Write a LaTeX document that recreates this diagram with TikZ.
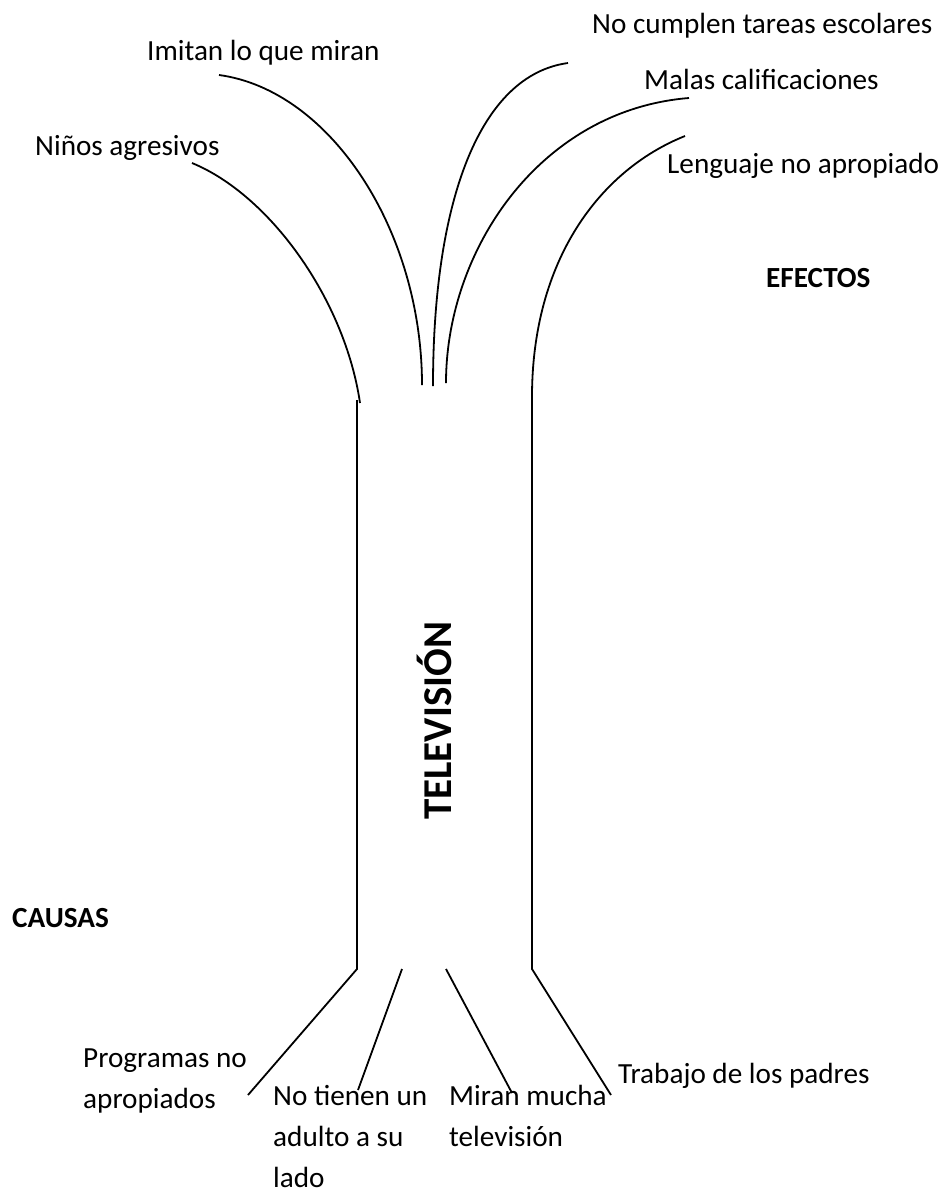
\documentclass[tikz,border=0pt]{standalone}
\usepackage{fontspec}
\setmainfont{Carlito}
\begin{document}
\begin{tikzpicture}[x=1pt,y=-1pt,
  lbl/.style={anchor=base west,inner sep=0pt,font=\fontsize{29.2}{41}\selectfont,align=left},
  hdr/.style={anchor=base west,inner sep=0pt,font=\fontsize{29.2}{35}\selectfont\bfseries},
  br/.style={line width=1.8pt}]
\useasboundingbox (0,0) rectangle (945,1195);
% effects
\node[lbl] (imitan) at (147,60) {Imitan lo que miran};
\node[lbl] (ninos) at (35,155) {Niños agresivos};
\node[lbl] (nocump) at (592,33) {No cumplen tareas escolares};
\node[lbl] (malas) at (644,89) {Malas calificaciones};
\node[lbl] (leng) at (667,173) {Lenguaje no apropiado};
\node[hdr] (efectos) at (766,287) {EFECTOS};
% causes (base anchor = baseline of last line)
\node[hdr] (causas) at (12,927) {CAUSAS};
\node[lbl] (prog) at (83,1108) {Programas no\\apropiados};
\node[lbl] (adulto) at (273,1187) {No tienen un\\adulto a su\\lado};
\node[lbl] (mucha) at (449,1146) {Miran mucha\\televisión};
\node[lbl] (padres) at (618,1083) {Trabajo de los padres};
% trunk label
\node[anchor=base west,rotate=90,inner sep=0pt,font=\fontsize{41}{45}\selectfont\bfseries] (tv) at (451,820) {TELEVISIÓN};
% coordinates
\coordinate (e1a) at (219,75);  \coordinate (e1b) at (422,385);
\coordinate (e2a) at (192,163); \coordinate (e2b) at (360,403);
\coordinate (e3a) at (568,63);  \coordinate (e3b) at (433,386);
\coordinate (e4a) at (689,98);  \coordinate (e4b) at (446,383);
\coordinate (e5a) at (685,136); \coordinate (e5b) at (532,397);
\coordinate (rb) at (532,969);
\coordinate (lt) at (357,400);  \coordinate (lb) at (357,969);
\coordinate (c1) at (248,1095);
\coordinate (c2t) at (402,969); \coordinate (c2) at (358,1090);
\coordinate (c3t) at (446,969); \coordinate (c3) at (512,1093);
\coordinate (c4) at (611,1095);
% branches
\draw[br] (e1a) .. controls (330,90) and (422,230) .. (e1b);
\draw[br] (e2a) .. controls (270,195) and (345,300) .. (e2b);
\draw[br] (e3b) .. controls (433,200) and (480,75) .. (e3a);
\draw[br] (e4b) .. controls (446,250) and (540,110) .. (e4a);
\draw[br] (e5a) .. controls (600,170) and (532,260) .. (e5b) -- (rb) -- (c4);
\draw[br] (lt) -- (lb) -- (c1);
\draw[br] (c2t) -- (c2);
\draw[br] (c3t) -- (c3);
\end{tikzpicture}
\end{document}
